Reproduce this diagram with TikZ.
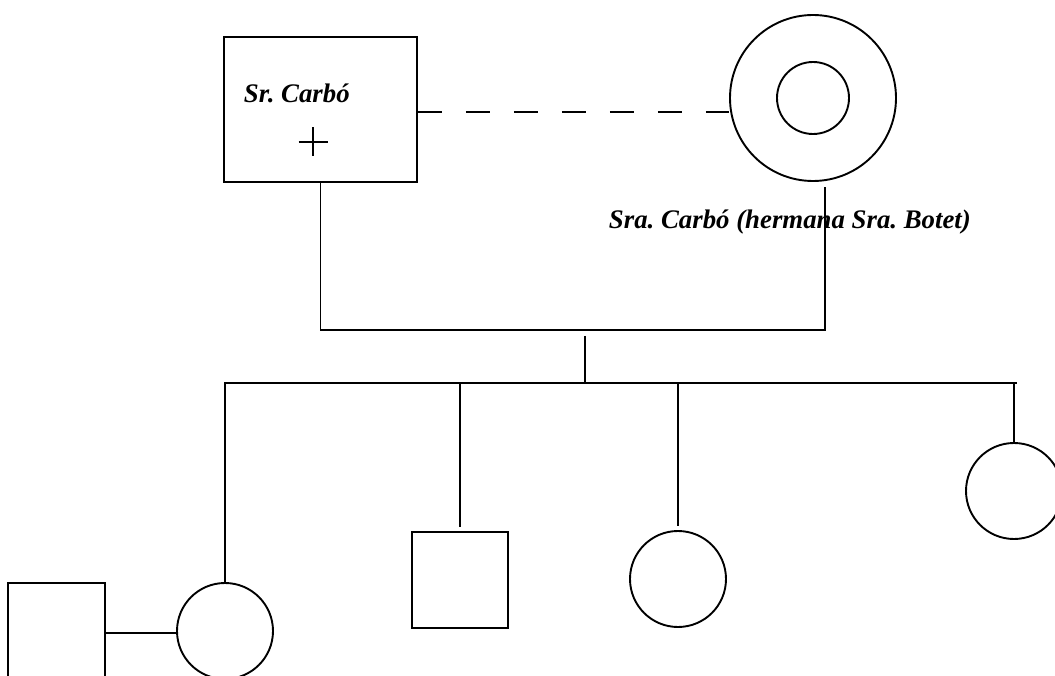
\documentclass[tikz,border=0pt]{standalone}
\usepackage{fontspec}
\usetikzlibrary{calc}
\setmainfont{Liberation Serif}
\frenchspacing
\begin{document}
\begin{tikzpicture}[x=1pt,y=-1pt,line width=1.9pt,
  male/.style={draw,rectangle,minimum width=#1,minimum height=#1,inner sep=0pt},
  female/.style={draw,circle,minimum size=#1,inner sep=0pt},
  lbl/.style={font=\fontsize{26.8}{30}\selectfont\bfseries\itshape,inner sep=0pt,anchor=base west},
  deceased/.style={line width=2.4pt},
  partner/.style={dash pattern=on 24pt off 24pt}]
\useasboundingbox (0,0) rectangle (1055,676);

% parents
\node[draw,rectangle,minimum width=193pt,minimum height=145pt,inner sep=0pt] (father) at (320.5,109.5) {};
\node[lbl] (fname) at (243,103) {Sr. Carbó};
\coordinate (cross) at (313,142);
\draw[deceased] ($(cross)+(-14.5,0)$) -- ($(cross)+(14.5,0)$)
                ($(cross)+(0,-14.5)$) -- ($(cross)+(0,14.5)$);
\node[female=166pt] (mother) at (813,98) {};
\node[female=72pt] (motherin) at (813,98) {};
\node[lbl] (mname) at (608,229) {Sra. Carbó (hermana Sra. Botet)};

% partnership line
\path (father.east) ++(0,2.5) coordinate (d1);
\draw[partner] (d1) -- (d1 -| mother.west);

% descent from the couple
\coordinate (pr) at (825,330);
\coordinate (mt) at (825,187);
\draw (father.south) |- (pr) -- (mt);
\coordinate (stemtop) at (585,336);
\coordinate (stembot) at (585,383);
\draw (stemtop) -- (stembot);

% children
\node[female=96pt] (c1) at (225,631) {};
\node[male=96pt] (c2) at (460,580) {};
\node[female=96pt] (c3) at (678,579) {};
\node[female=96pt] (c4) at (1014,491) {};
\node[male=97pt] (spouse) at (56.5,631.5) {};

% sibship line
\coordinate (sl) at (225,383);
\coordinate (sr) at (1017,383);
\draw (c1.north) -- (sl) -- (sr);
\draw[shorten >=4pt] (c2.north |- sl) -- (c2.north);
\draw[shorten >=4pt] (c3.north |- sl) -- (c3.north);
\draw (c4.north |- sl) -- (c4.north);

% marriage of the first child
\path (spouse.east |- c1.west) ++(0,2) coordinate (m1);
\draw (m1) -- (m1 -| c1.west);
\end{tikzpicture}
\end{document}
